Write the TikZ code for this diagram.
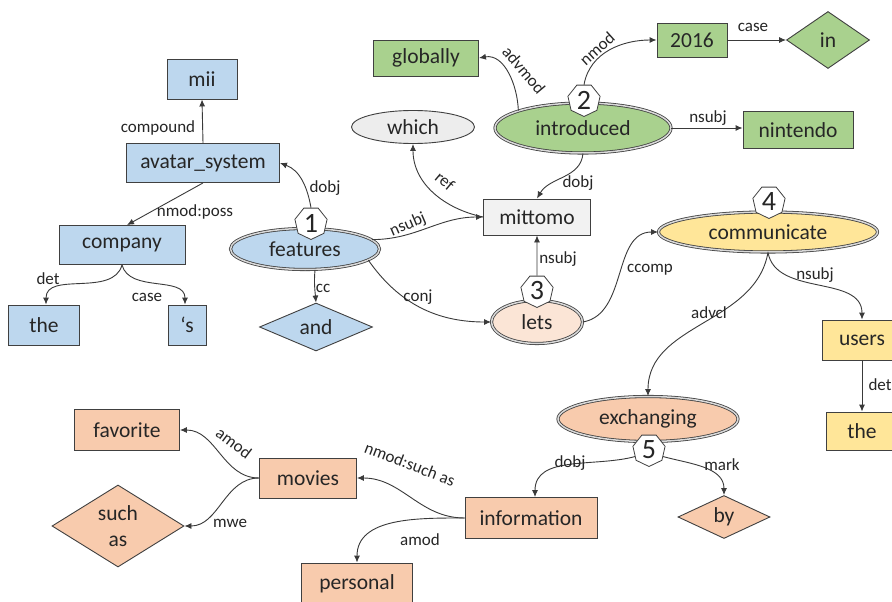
\documentclass[tikz,border=0pt]{standalone}
\usepackage{fontspec}
\setmainfont{Carlito}
\usetikzlibrary{shapes.geometric,arrows.meta}
\definecolor{bordc}{HTML}{404040}
\definecolor{edgec}{HTML}{3A3A3A}
\definecolor{txtc}{HTML}{262626}
\definecolor{blueF}{HTML}{BDD7EE}
\definecolor{greenF}{HTML}{A9D18E}
\definecolor{yellowF}{HTML}{FFE699}
\definecolor{peachF}{HTML}{F8CBAD}
\definecolor{lpeachF}{HTML}{FBE5D6}
\definecolor{grayF}{HTML}{F2F2F2}
\definecolor{whichF}{HTML}{EDEDED}
\tikzset{
  base/.style={draw=bordc, line width=0.9pt, text=txtc, inner sep=0pt,
    font=\fontsize{21.5}{26}\selectfont},
  bx/.style={base, rectangle},
  dm/.style={base, diamond},
  el/.style={base, ellipse},
  dbl/.style={base, ellipse, line width=0.8pt, double=gray!30, double distance=1.5pt},
  badge/.style={regular polygon, regular polygon sides=7, shape border rotate=180,
    draw=bordc, fill=white, line width=0.8pt, inner sep=0pt, minimum size=33pt,
    text=txtc, font=\fontsize{28}{30}\selectfont},
  lbl/.style={font=\fontsize{17}{19}\selectfont, text=txtc, inner sep=0pt},
  arr/.style={-{Latex[length=7pt,width=6pt]}, draw=edgec, line width=0.9pt},
}
\begin{document}
\begin{tikzpicture}[x=1pt,y=1pt]
\clip (0,0) rectangle (892,-602);
\fill[white] (0,0) rectangle (892,-602);

% blue
\node[bx, fill=blueF, minimum width=70pt, minimum height=40pt] (mii) at (202,-79) {mii};
\node[bx, fill=blueF, minimum width=153pt, minimum height=39pt] (avs) at (203,-163) {avatar\_system};
\node[bx, fill=blueF, minimum width=126pt, minimum height=39pt] (company) at (122,-245) {company};
\node[bx, fill=blueF, minimum width=71pt, minimum height=40pt] (the1) at (44,-325) {the};
\node[bx, fill=blueF, minimum width=38pt, minimum height=40pt] (poss) at (187,-325) {‘s};
\node[dbl, fill=blueF, minimum width=149pt, minimum height=41pt] (features) at (305,-249) {features};
\node[dm, fill=blueF, minimum width=113pt, minimum height=40pt] (and) at (316,-327) {and};

% green
\node[bx, fill=greenF, minimum width=105pt, minimum height=36pt] (globally) at (426,-58) {globally};
\node[bx, fill=greenF, minimum width=70pt, minimum height=34pt] (y2016) at (692,-40) {2016};
\node[dm, fill=greenF, minimum width=83pt, minimum height=57pt] (in) at (828,-40) {in};
\node[dbl, fill=greenF, minimum width=176pt, minimum height=50pt] (introduced) at (583,-128) {introduced};
\node[bx, fill=greenF, minimum width=110pt, minimum height=37pt] (nintendo) at (798,-130) {nintendo};

% gray
\node[el, fill=whichF, minimum width=123pt, minimum height=33pt] (which) at (413,-127) {which};
\node[bx, fill=grayF, minimum width=107pt, minimum height=36pt] (mittomo) at (537,-217) {mittomo};

% yellow
\node[dbl, fill=yellowF, minimum width=219pt, minimum height=40pt] (communicate) at (768,-232) {communicate};
\node[bx, fill=yellowF, minimum width=80pt, minimum height=40pt] (users) at (862,-340) {users};
\node[bx, fill=yellowF, minimum width=72pt, minimum height=38pt] (the2) at (862,-431) {the};

% peach
\node[dbl, fill=lpeachF, minimum width=91pt, minimum height=43pt] (lets) at (537,-322) {lets};
\node[dbl, fill=peachF, minimum width=180pt, minimum height=45pt] (exchanging) at (648,-419) {exchanging};
\node[bx, fill=peachF, minimum width=132pt, minimum height=41pt] (information) at (531,-518) {information};
\node[dm, fill=peachF, minimum width=92pt, minimum height=43pt] (by) at (724,-517) {by};
\node[bx, fill=peachF, minimum width=105pt, minimum height=41pt] (favorite) at (127,-430) {favorite};
\node[bx, fill=peachF, minimum width=97pt, minimum height=40pt] (movies) at (308,-478) {movies};
\node[dm, fill=peachF, minimum width=132pt, minimum height=82pt, align=center] (suchas) at (118,-526) {such\\as};
\node[bx, fill=peachF, minimum width=111pt, minimum height=42pt] (personal) at (357,-584) {personal};

% badges
\node[badge] (b1) at (311,-223) {1};
\node[badge] (b2) at (584,-100) {2};
\node[badge] (b3) at (537,-291) {3};
\node[badge] (b4) at (769,-202) {4};
\node[badge] (b5) at (649,-450) {5};

% edges
\draw[arr] (avs.north) -- (mii.south);
\node[lbl] (l1) at (158,-128) {compound};
\draw[arr] (avs.south) -- ([xshift=5pt]company.north);
\node[lbl] (l2) at (195,-212) {nmod:poss};
\draw[arr] (company.south) to[out=-105, in=90] ([xshift=2pt]the1.north);
\node[lbl] (l3) at (48,-279) {det};
\draw[arr] (company.south) to[out=-75, in=90] ([xshift=-2pt]poss.north);
\node[lbl] (l4) at (147,-297) {case};
\draw[arr] (b1.north) to[out=100, in=-20] (avs.east);
\node[lbl] (l5) at (325,-188) {dobj};
\draw[arr] ([xshift=10pt]features.south) to[out=-95, in=95] (and.north);
\node[lbl] (l6) at (323,-288) {cc};
\draw[arr] (features.-10) to[out=-55, in=180] (lets.west);
\node[lbl] (l7) at (418,-297) {conj};
\draw[arr] (features.8) to[out=0, in=180] (mittomo.west);
\node[lbl, rotate=23] (l8) at (408,-225) {nsubj};
\draw[arr] (mittomo.west) to[out=168, in=-90] (which.south);
\node[lbl, rotate=-40] (l9) at (445,-181) {ref};
\draw[arr] (introduced.south) to[out=-95, in=60] (mittomo.north);
\node[lbl] (l10) at (578,-183) {dobj};
\draw[arr] (introduced.165) to[out=92, in=10] (globally.east);
\node[lbl, rotate=-50] (l11) at (524,-70) {advmod};
\draw[arr] (b2.north) to[out=80, in=180] (y2016.west);
\node[lbl, rotate=42] (l12) at (597,-49) {nmod};
\draw[arr] (y2016.east) -- (in.west);
\node[lbl] (l13) at (753,-27) {case};
\draw[arr] (introduced.east) -- (introduced.east -| nintendo.west);
\node[lbl] (l14) at (708,-118) {nsubj};
\draw[arr] (b3.north) -- (mittomo.south);
\node[lbl] (l15) at (558,-259) {nsubj};
\draw[arr] (lets.east) to[out=10, in=180] (communicate.west);
\node[lbl] (l16) at (650,-270) {ccomp};
\draw[arr] (communicate.south) to[out=-80, in=90] (users.north);
\node[lbl] (l17) at (815,-275) {nsubj};
\draw[arr] (communicate.south) to[out=-100, in=90] (exchanging.north);
\node[lbl] (l18) at (709,-313) {advcl};
\draw[arr] (users.south) -- (the2.north);
\node[lbl] (l19) at (880,-385) {det};
\draw[arr] (b5.205) to[out=-165, in=90] ([xshift=4pt]information.north);
\node[lbl] (l20) at (570,-463) {dobj};
\draw[arr] (b5.-25) to[out=-15, in=90] (by.north);
\node[lbl] (l21) at (722,-465) {mark};
\draw[arr] (information.west) to[out=180, in=0] (movies.east);
\node[lbl, rotate=-21] (l22) at (410,-464) {nmod:such as};
\draw[arr] (information.west) to[out=180, in=90] (personal.north);
\node[lbl] (l23) at (420,-540) {amod};
\draw[arr] (movies.west) to[out=180, in=0] (favorite.east);
\node[lbl, rotate=-37] (l24) at (234,-443) {amod};
\draw[arr] (movies.west) to[out=180, in=0] (suchas.east);
\node[lbl] (l25) at (230,-523) {mwe};
\end{tikzpicture}
\end{document}
